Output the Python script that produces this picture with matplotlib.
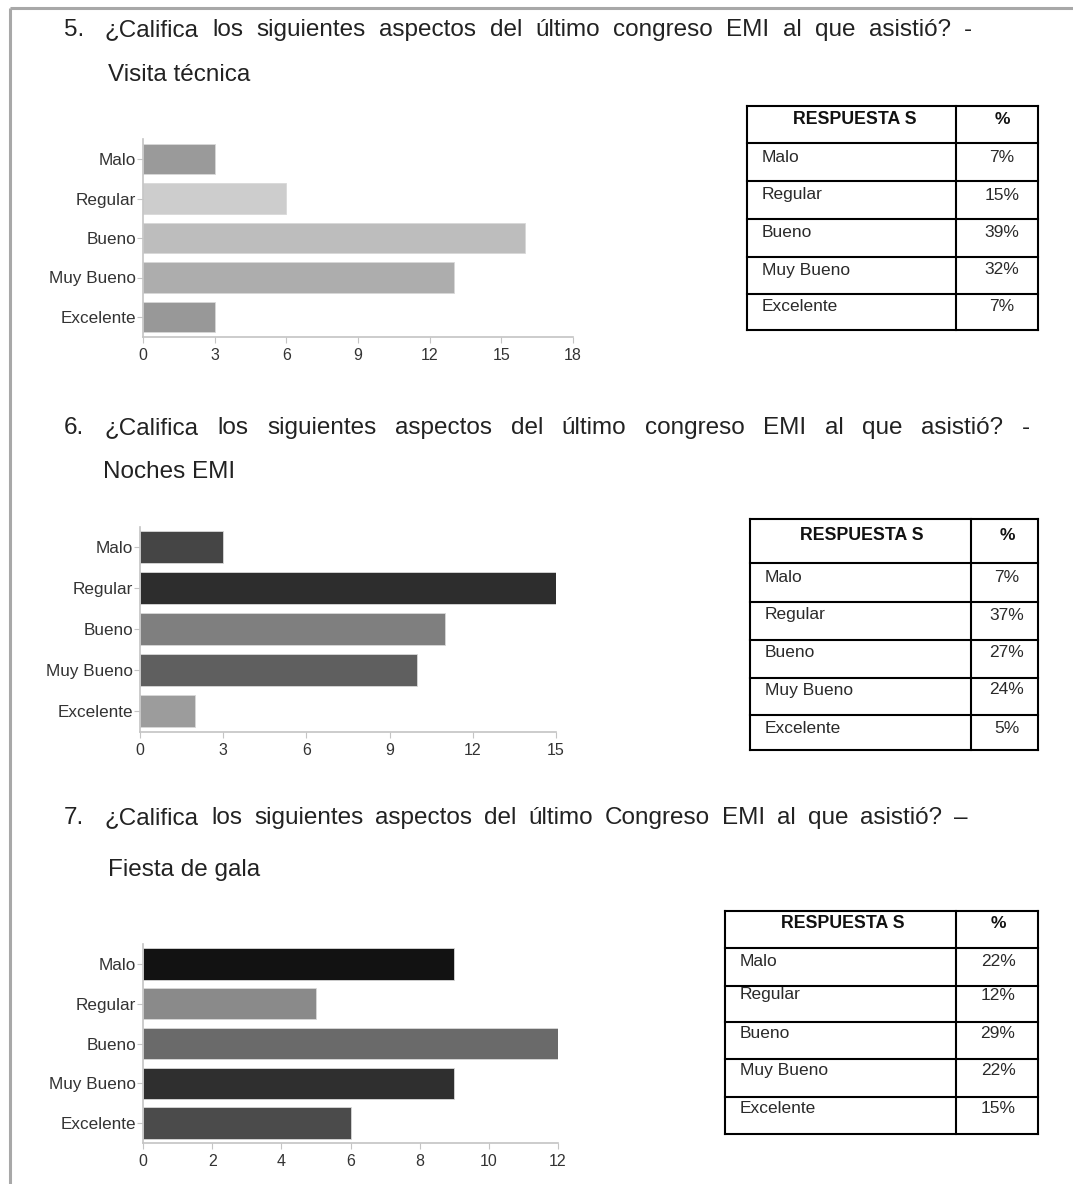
import matplotlib
matplotlib.use('Agg')
import matplotlib.pyplot as plt

plt.rcParams['font.family'] = ['Liberation Sans', 'DejaVu Sans']

# ---- data ----
categorias = ['Malo', 'Regular', 'Bueno', 'Muy Bueno', 'Excelente']

visita_tecnica = [3, 6, 16, 13, 3]
noches_emi = [3, 15, 11, 10, 2]
fiesta_gala = [9, 5, 12, 9, 6]

pct_visita = ['7%', '15%', '39%', '32%', '7%']
pct_noches = ['7%', '37%', '27%', '24%', '5%']
pct_fiesta = ['22%', '12%', '29%', '22%', '15%']

colores_visita = ['#9a9a9a', '#cdcdcd', '#bdbdbd', '#adadad', '#989898']
colores_noches = ['#454545', '#2d2d2d', '#7f7f7f', '#5f5f5f', '#9c9c9c']
colores_fiesta = ['#121212', '#8a8a8a', '#6a6a6a', '#2f2f2f', '#4b4b4b']

preguntas = [
    ('5.', '¿Califica los siguientes aspectos del último congreso EMI al que asistió? -', 'Visita técnica'),
    ('6.', '¿Califica los siguientes aspectos del último congreso EMI al que asistió? -', 'Noches EMI'),
    ('7.', '¿Califica los siguientes aspectos del último Congreso EMI al que asistió? –', 'Fiesta de gala'),
]

W, H = 1073, 1184
fig = plt.figure(figsize=(W / 100, H / 100), dpi=100)
fig.patch.set_facecolor('white')

page = fig.add_axes([0, 0, 1, 1])
page.set_xlim(0, W)
page.set_ylim(H, 0)
page.axis('off')
page.patch.set_alpha(0)

# page frame
page.plot([10, W], [8, 8], color='#a8a8a8', lw=2.2, solid_capstyle='butt')
page.plot([10, 10], [8, H], color='#a8a8a8', lw=2.2, solid_capstyle='butt')

fig.canvas.draw()
r = fig.canvas.get_renderer()

fs_head = 17.5
txt_col = '#222222'


def justify(line, x0, x1, y):
    # spread the words of one line between x0 and x1
    palabras = line.split(' ')
    objs = [page.text(0, y, p, fontsize=fs_head, va='center', color=txt_col) for p in palabras]
    ws = [o.get_window_extent(r).width for o in objs]
    gap = (x1 - x0 - sum(ws)) / (len(ws) - 1)
    x = x0
    for o, w in zip(objs, ws):
        o.set_x(x)
        x += w + gap


head_y = [30, 428, 818]
head_end = [972, 1030, 968]
sub_y = [75, 472, 870]
sub_x = [108, 103, 108]
for i, (num, linea, sub) in enumerate(preguntas):
    page.text(64, head_y[i], num, fontsize=fs_head, va='center', color=txt_col)
    justify(linea, 105, head_end[i], head_y[i])
    page.text(sub_x[i], sub_y[i], sub, fontsize=fs_head, va='center', color=txt_col)


def bar_chart(left, x_end, center0, step, vals, colors, xmax, xstep):
    top = center0 - step / 2
    height = step * 5
    ax = fig.add_axes([left / W, 1 - (top + height) / H, (x_end - left) / W, height / H])
    ax.barh(range(5), vals, height=0.78, color=colors, edgecolor='#d8d8d8', linewidth=0.6)
    ax.set_ylim(4.5, -0.5)
    ax.set_xlim(0, xmax)
    ax.set_xticks(range(0, xmax + 1, xstep))
    ax.set_yticks(range(5))
    ax.set_yticklabels(categorias, fontsize=12.3, color='#333333')
    ax.tick_params(axis='x', labelsize=11.5, labelcolor='#333333', color='#c4c4c4', length=4, pad=4)
    ax.tick_params(axis='y', color='#c4c4c4', length=4, pad=1)
    for s in ['top', 'right']:
        ax.spines[s].set_visible(False)
    for s in ['left', 'bottom']:
        ax.spines[s].set_color('#c4c4c4')
        ax.spines[s].set_linewidth(1.2)
    ax.patch.set_alpha(0)
    return ax


bar_chart(143, 573, 159, 39.5, visita_tecnica, colores_visita, 18, 3)
bar_chart(140, 556, 547, 41, noches_emi, colores_noches, 15, 3)
bar_chart(143, 558, 964, 39.75, fiesta_gala, colores_fiesta, 12, 2)


def tabla(left, div, right, hlines, text_y, label_x, head_x, val_x, pcts):
    lw = 1.5
    for y in hlines:
        page.plot([left, right], [y, y], color='black', lw=lw)
    for x in [left, div, right]:
        page.plot([x, x], [hlines[0], hlines[-1]], color='black', lw=lw)
    page.text(head_x, text_y[0], 'RESPUESTA S', fontsize=12.8, fontweight='bold',
              ha='center', va='center', color='#111111')
    page.text(val_x, text_y[0], '%', fontsize=12.5, fontweight='bold',
              ha='center', va='center', color='#111111')
    for cat, p, y in zip(categorias, pcts, text_y[1:]):
        page.text(label_x, y, cat, fontsize=12.5, ha='left', va='center', color='#2a2a2a')
        page.text(val_x, y, p, fontsize=12.5, ha='center', va='center', color='#2a2a2a')


tabla(747, 956, 1038, [106, 142.7, 180.7, 218.7, 256.7, 294, 330],
      [119, 157, 195, 232.7, 270, 306.7], 762, 855, 1002, pct_visita)
tabla(750, 970.7, 1038, [519.3, 563.3, 601.7, 640, 677.7, 715, 750],
      [535, 578, 615, 652.7, 690, 728.3], 765, 862, 1007, pct_noches)
tabla(725, 955.7, 1037.7, [910.7, 948.3, 986, 1021.7, 1059.3, 1096.7, 1134],
      [923.3, 961.7, 995, 1033.3, 1070.7, 1108.3], 740, 843, 998, pct_fiesta)

fig.savefig('out.png', dpi=100)
